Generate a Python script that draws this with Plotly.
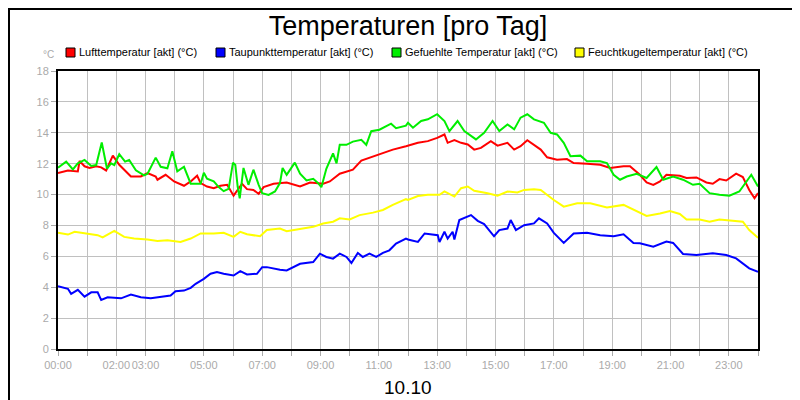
import plotly.graph_objects as go

red_h = [0,0.34,0.68,0.74,0.91,1.08,1.31,1.48,1.65,1.88,2.1,2.33,2.5,2.84,3.07,3.35,3.41,3.69,3.98,4.32,4.55,4.77,4.89,5.11,5.34,5.57,5.8,6.02,6.31,6.48,6.7,6.88,7.05,7.39,7.84,8.3,8.64,9.09,9.32,9.66,10.11,10.4,10.8,11.14,11.48,11.93,
         12.0,12.34,12.68,13.0,13.25,13.36,13.59,13.82,14.05,14.27,14.5,14.84,15.07,15.41,15.64,15.86,16.09,16.32,16.55,16.77,17.11,17.45,17.68,18.14,18.59,18.93,19.39,19.61,19.95,20.18,20.41,20.64,20.86,21.32,21.55,21.89,22.23,22.45,22.68,22.91,23.25,23.48,23.7,23.88,24.0]
red_v = [11.4,11.56,11.5,12.17,11.83,11.72,11.83,11.76,11.56,12.52,11.93,11.5,11.17,11.17,11.39,11.17,10.96,11.28,10.85,10.57,10.85,11.22,10.74,10.52,10.41,10.57,10.63,9.93,10.7,10.35,10.3,10.04,10.48,10.7,10.78,10.52,10.78,10.7,10.85,11.35,11.61,12.2,12.48,12.7,12.91,13.13,
         13.17,13.35,13.46,13.67,13.89,13.35,13.52,13.35,13.24,12.91,13.02,13.46,13.17,13.35,12.91,13.13,13.52,13.24,12.91,12.41,12.26,12.3,12.04,12.0,11.93,11.72,11.83,11.83,11.28,10.78,10.63,10.85,11.28,11.22,11.07,11.11,10.78,10.7,11.0,10.91,11.35,11.13,10.3,9.76,10.09]

green_h = [0,0.28,0.51,0.68,0.91,1.14,1.31,1.5,1.68,1.82,1.93,2.1,2.3,2.44,2.67,2.95,3.07,3.35,3.52,3.75,3.92,4.09,4.32,4.55,4.89,5.0,5.11,5.34,5.51,5.68,5.85,6.0,6.08,6.16,6.23,6.36,6.53,6.7,6.88,7.0,7.22,7.44,7.61,7.7,7.84,8.12,8.3,8.52,8.75,8.92,9.03,9.2,9.43,9.55,9.66,9.89,10.11,10.4,10.57,10.74,11.02,11.42,11.59,11.93,
           12.0,12.17,12.45,12.68,13.0,13.25,13.42,13.7,13.93,14.33,14.61,14.9,15.13,15.41,15.64,15.86,16.09,16.32,16.66,16.89,17.11,17.34,17.57,17.91,18.14,18.59,18.82,19.05,19.27,19.5,19.84,20.18,20.52,20.75,21.09,21.43,21.77,22.0,22.34,22.68,23.02,23.36,23.77,24.0]
green_v = [11.74,12.13,11.63,12.02,12.24,11.85,11.91,13.37,11.67,12.02,11.91,12.61,12.13,12.24,11.57,11.24,11.35,12.39,11.8,11.7,12.8,11.5,11.8,10.7,10.7,11.41,11.02,10.85,10.48,10.22,10.37,12.07,11.91,10.52,9.76,11.72,10.63,11.61,10.63,10.09,9.98,10.2,10.74,11.72,11.28,12.07,11.35,10.91,11.02,10.74,10.48,11.67,12.67,12.02,13.22,13.22,13.43,13.54,13.22,14.1,14.2,14.59,14.3,14.46,
           14.65,14.33,14.76,14.87,15.2,14.76,14.11,14.76,14.11,13.57,14.0,14.76,14.11,14.54,14.22,14.98,15.2,14.87,14.65,14.0,13.89,13.35,12.48,12.52,12.15,12.15,12.04,11.28,10.96,11.17,11.35,11.07,11.78,10.96,11.17,10.96,10.63,10.7,10.09,9.98,9.93,10.2,11.28,10.52]

yellow_h = [0,0.34,0.57,0.91,1.36,1.53,1.93,2.27,2.61,3.07,3.41,3.75,4.2,4.55,4.89,5.34,5.68,6.02,6.25,6.48,6.93,7.16,7.61,7.84,8.3,8.75,9.09,9.43,9.66,10.0,10.34,10.8,11.14,11.48,11.93,
            12.0,12.34,12.68,13.08,13.25,13.59,13.82,14.05,14.27,14.73,15.07,15.41,15.75,15.98,16.32,16.55,16.77,17.0,17.34,17.8,18.25,18.82,19.39,19.73,20.18,20.64,20.98,21.32,21.55,22.0,22.34,22.68,23.14,23.48,23.7,24.0]
yellow_v = [7.52,7.41,7.59,7.48,7.37,7.22,7.65,7.26,7.15,7.09,7.0,7.04,6.93,7.15,7.48,7.48,7.52,7.26,7.59,7.43,7.3,7.7,7.8,7.63,7.76,7.91,8.13,8.24,8.46,8.39,8.67,8.83,9.0,9.33,9.7,
            9.65,9.91,9.98,9.98,10.2,9.87,10.41,10.52,10.24,10.09,9.93,10.2,10.13,10.3,10.35,10.3,9.98,9.65,9.22,9.43,9.43,9.17,9.33,9.04,8.61,8.78,8.93,8.74,8.39,8.39,8.24,8.39,8.3,8.24,7.7,7.2]

blue_h = [0,0.34,0.45,0.68,0.91,1.14,1.36,1.48,1.7,1.93,2.16,2.5,2.84,3.18,3.52,3.86,4.03,4.32,4.55,4.72,5.0,5.23,5.45,5.68,6.02,6.25,6.48,6.82,7.0,7.16,7.61,7.84,8.3,8.75,8.98,9.2,9.43,9.66,9.89,10.06,10.28,10.45,10.68,10.91,11.14,11.36,11.59,11.93,
          12.0,12.34,12.57,13.02,13.08,13.25,13.36,13.53,13.59,13.76,14.16,14.39,14.61,14.95,15.13,15.41,15.52,15.7,15.98,16.32,16.49,16.77,17.0,17.34,17.68,18.14,18.59,19.05,19.39,19.73,19.95,20.41,20.86,21.09,21.43,21.89,22.45,22.91,23.25,23.7,24.0]
blue_v = [4.07,3.9,3.57,3.83,3.39,3.67,3.67,3.17,3.35,3.3,3.28,3.52,3.35,3.28,3.39,3.46,3.74,3.78,3.96,4.22,4.54,4.87,4.98,4.87,4.76,5.04,4.83,4.87,5.3,5.3,5.13,5.09,5.52,5.63,6.17,5.96,5.85,6.17,5.96,5.57,6.22,5.96,6.17,5.96,6.22,6.39,6.83,7.15,
          7.09,6.93,7.48,7.37,6.93,7.59,7.15,7.59,7.09,8.35,8.67,8.3,8.09,7.3,7.7,7.8,8.35,7.7,8.02,8.13,8.46,8.13,7.52,6.87,7.48,7.52,7.37,7.3,7.43,6.87,6.85,6.63,6.96,6.87,6.15,6.09,6.2,6.09,5.87,5.22,5.0]

series_names = ["Lufttemperatur [akt] (°C)", "Taupunkttemperatur [akt] (°C)",
                "Gefuehlte Temperatur [akt] (°C)", "Feuchtkugeltemperatur [akt] (°C)"]
colors = ["#ff0000", "#0000ff", "#00ee00", "#ffff00"]
tick_hours = list(range(25))
tick_labels = ["00:00", "", "02:00", "03:00", "", "05:00", "", "07:00", "", "09:00", "", "11:00", "",
               "13:00", "", "15:00", "", "17:00", "", "19:00", "", "21:00", "", "23:00", ""]

fig = go.Figure()
for h, v, c in [(red_h, red_v, colors[0]), (blue_h, blue_v, colors[1]),
                (green_h, green_v, colors[2]), (yellow_h, yellow_v, colors[3])]:
    fig.add_trace(go.Scatter(x=h, y=v, mode="lines", line=dict(color=c, width=2),
                             showlegend=False, hoverinfo="skip"))

PW, PH = 700, 278
leg_x = [58, 208, 384, 567]
for name, c, px in zip(series_names, colors, leg_x):
    fig.add_shape(type="rect", xref="paper", yref="paper",
                  x0=(px - 50) / PW, x1=(px - 41) / PW,
                  y0=(341 - 49) / PH, y1=(341 - 40) / PH,
                  line=dict(color="black", width=1), fillcolor=c)
    fig.add_annotation(text=name, xref="paper", yref="paper", x=(px - 39) / PW,
                       y=(341 - 44.5) / PH, xanchor="left", yanchor="middle", showarrow=False,
                       font=dict(size=11, color="black", family="Liberation Sans Narrow, Liberation Sans"))
fig.add_annotation(text="°C", xref="paper", yref="paper", x=-2 / PW, y=(341 - 47) / PH,
                   xanchor="right", yanchor="middle", showarrow=False,
                   font=dict(size=10, color="#aaaaaa", family="Liberation Sans"))
fig.add_annotation(text="10.10", xref="paper", yref="paper", x=0.5, y=-38 / PH,
                   xanchor="center", yanchor="middle", showarrow=False,
                   font=dict(size=19, color="black", family="Liberation Sans"))

fig.update_layout(
    width=800, height=400,
    margin=dict(l=50, r=50, t=63, b=59, autoexpand=False),
    paper_bgcolor="white", plot_bgcolor="white",
    title=dict(text="Temperaturen [pro Tag]", x=0.5, xanchor="center", y=0.955, yanchor="middle",
               font=dict(size=27, color="black", family="Liberation Sans")),
    font=dict(family="Liberation Sans"),
    xaxis=dict(range=[0, 24], tickvals=tick_hours, ticktext=tick_labels, tickangle=0,
               automargin=False,
               showgrid=True, gridcolor="#c0c0c0", gridwidth=1,
               showline=True, linecolor="black", linewidth=2, mirror=True,
               ticks="outside", ticklen=5, tickcolor="#aaaaaa",
               tickfont=dict(size=11, color="#aaaaaa", family="Liberation Sans Narrow, Liberation Sans"),
               zeroline=False),
    yaxis=dict(range=[0, 18], dtick=2, showgrid=True, gridcolor="#c0c0c0", gridwidth=1,
               automargin=False,
               showline=True, linecolor="black", linewidth=2, mirror=True,
               ticks="outside", ticklen=5, tickcolor="#aaaaaa",
               tickfont=dict(size=11, color="#aaaaaa"), zeroline=False),
)
fig.add_shape(type="rect", xref="paper", yref="paper", x0=-49 / PW, x1=749 / PW,
              y0=-58 / PH, y1=340 / PH, line=dict(color="black", width=2))
fig.write_html("out.html")
